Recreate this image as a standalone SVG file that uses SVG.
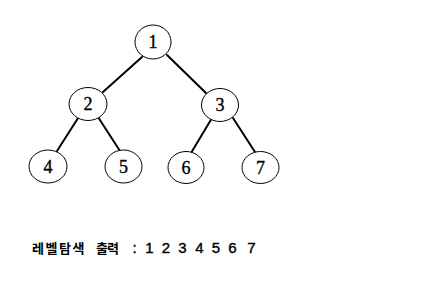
<svg xmlns="http://www.w3.org/2000/svg" width="435" height="281" viewBox="0 0 435 281">
  <style>
    .node ellipse { fill: #ffffff; stroke: #000000; stroke-width: 1; }
    .node text { font-family: "Liberation Serif", serif; font-size: 18px; text-anchor: middle; fill: #000000; stroke: #000000; stroke-width: 0.35; }
    .edges line { stroke: #000000; stroke-width: 2; stroke-linecap: round; }
    .caption { font-family: "Noto Sans CJK KR", "Liberation Sans", sans-serif; font-size: 13px; font-weight: bold; fill: #000000; }
    .caption .num { font-family: "Liberation Sans", sans-serif; font-size: 15px; font-weight: normal; stroke: #000000; stroke-width: 0.4; text-anchor: middle; }
  </style>
  <rect width="435" height="281" fill="#ffffff"/>

  <!-- tree edges -->
  <g id="edges" class="edges">
    <line x1="142" y1="57" x2="103" y2="92"/>
    <line x1="167" y1="55" x2="207" y2="94"/>
    <line x1="80" y1="115" x2="57" y2="151"/>
    <line x1="98" y1="117" x2="120" y2="151"/>
    <line x1="212" y1="118" x2="191" y2="153"/>
    <line x1="233" y1="118" x2="255" y2="152"/>
  </g>

  <g id="node1" class="node">
    <ellipse cx="153" cy="42" rx="18" ry="17"/>
    <text x="153" y="48">1</text>
  </g>
  <g id="node2" class="node">
    <ellipse cx="88" cy="104" rx="19" ry="16.5"/>
    <text x="88" y="110">2</text>
  </g>
  <g id="node3" class="node">
    <ellipse cx="220" cy="105" rx="18.5" ry="16.5"/>
    <text x="220" y="111">3</text>
  </g>
  <g id="node4" class="node">
    <ellipse cx="48" cy="166.5" rx="19" ry="16.5"/>
    <text x="48" y="172.5">4</text>
  </g>
  <g id="node5" class="node">
    <ellipse cx="123.5" cy="166.5" rx="18.5" ry="16.5"/>
    <text x="123.5" y="172.5">5</text>
  </g>
  <g id="node6" class="node">
    <ellipse cx="186" cy="167.5" rx="18" ry="16"/>
    <text x="186" y="173.5">6</text>
  </g>
  <g id="node7" class="node">
    <ellipse cx="260.5" cy="167.5" rx="18.5" ry="16"/>
    <text x="260.5" y="173.5">7</text>
  </g>

  <!-- traversal order caption -->
  <text class="caption" y="253">
    <tspan x="32" letter-spacing="1.5">레벨탐색</tspan>
    <tspan x="96" letter-spacing="-1">출력</tspan>
    <tspan class="num" x="136">:</tspan>
    <tspan class="num" x="151">1</tspan>
    <tspan class="num" x="167.5">2</tspan>
    <tspan class="num" x="184">3</tspan>
    <tspan class="num" x="201">4</tspan>
    <tspan class="num" x="217.5">5</tspan>
    <tspan class="num" x="234">6</tspan>
    <tspan class="num" x="251.5">7</tspan>
  </text>
</svg>
